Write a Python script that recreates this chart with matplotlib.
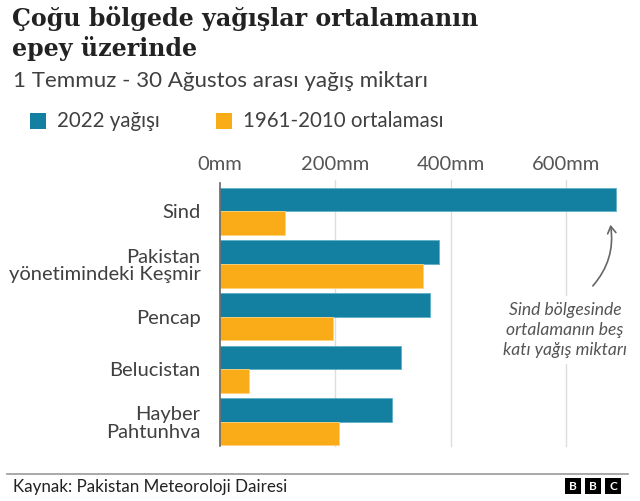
import numpy as np
import matplotlib
matplotlib.use('Agg')
import matplotlib.pyplot as plt
from matplotlib.patches import FancyArrowPatch, Rectangle

plt.rcParams['font.family'] = ['Lato', 'DejaVu Sans']

# veriler
bolgeler = ['Sind', 'Pakistan\nyönetimindeki Keşmir', 'Pencap', 'Belucistan', 'Hayber\nPahtunhva']
yagis_2022 = [687, 379, 364, 313, 298]
ortalama = [113, 351, 195, 51, 207]
seri_adlari = ['2022 yağışı', '1961-2010 ortalaması']
xticks = [0, 200, 400, 600]
xtick_labels = ['0mm', '200mm', '400mm', '600mm']

mavi = '#1380A1'
turuncu = '#FAAB18'
gri = '#555555'

W, H = 640, 501
fig = plt.figure(figsize=(6.4, 5.01), dpi=100, facecolor='w')
renderer = fig.canvas.get_renderer()

def px(x, y):
    return x / W, 1 - y / H

def genislik(t):
    return t.get_window_extent(renderer).width

def sigdir(t, hedef):
    # yazi boyutunu hedef piksel genisligine gore ayarla
    t.set_fontsize(t.get_fontsize() * hedef / genislik(t))
    return t.get_fontsize()

def olc(metin, hedef, **kw):
    t = fig.text(0, 0, metin, fontsize=12, **kw)
    fs = sigdir(t, hedef)
    t.remove()
    return fs

# eksen (piksel kutusu: sol 220, sag 624, ust 183, alt 446)
ax = fig.add_axes([220 / W, (H - 446) / H, (624 - 220) / W, (446 - 183) / H])
y = np.arange(len(bolgeler))
h = 0.45
ax.barh(y - h / 2, yagis_2022, height=h, color=mavi, edgecolor='#5fb0c8', linewidth=0.6, zorder=3)
ax.barh(y + h / 2, ortalama, height=h, color=turuncu, edgecolor='#ffd27a', linewidth=0.6, zorder=3)
ax.set_xlim(0, 700)
ax.set_ylim(4.46, -0.54)
ax.set_xticks(xticks)
ax.set_xticklabels(xtick_labels)
ax.xaxis.tick_top()
fs_tick = olc('200mm', 68)
ax.tick_params(axis='x', length=0, pad=7, labelsize=fs_tick, labelcolor=gri)
ax.set_yticks(y)
fs_kat = olc('yönetimindeki Keşmir', 191)
ax.set_yticklabels(bolgeler, fontsize=fs_kat, color='#404040', linespacing=1.05)
ax.tick_params(axis='y', length=0, pad=14)
for s in ['top', 'right', 'bottom']:
    ax.spines[s].set_visible(False)
ax.spines['left'].set_color('#666666')
ax.spines['left'].set_linewidth(1.2)
ax.spines['left'].set_zorder(4)
for t in xticks[1:]:
    ax.axvline(t, color='#dddddd', linewidth=1, zorder=1, ymin=0, ymax=1.01, clip_on=False)

# not ve ok
fs_not = olc('katı yağış miktarı', 124, style='italic')
fig.text(*px(565, 330), 'Sind bölgesinde\nortalamanın beş\nkatı yağış miktarı',
         ha='center', va='center', fontsize=fs_not, style='italic',
         color=gri, linespacing=1.3, zorder=5,
         bbox=dict(facecolor='white', edgecolor='none', pad=4))
ok = FancyArrowPatch(px(591, 288), px(610, 222), transform=fig.transFigure,
                     connectionstyle='arc3,rad=0.25', arrowstyle='->,head_length=5,head_width=3',
                     color='#666666', linewidth=1.2)
fig.patches.append(ok)

# baslik
t1 = fig.text(*px(12, 26), 'Çoğu bölgede yağışlar ortalamanın', fontsize=18, fontweight='bold',
              color='#222222', va='baseline', family=['DejaVu Serif'])
fs_bas = sigdir(t1, 466)
fig.text(*px(12, 56), 'epey üzerinde', fontsize=fs_bas, fontweight='bold',
         color='#222222', va='baseline', family=['DejaVu Serif'])
t3 = fig.text(*px(13, 87), '1 Temmuz - 30 Ağustos arası yağış miktarı', fontsize=13,
              color='#404040', va='baseline')
sigdir(t3, 414)

# lejant
fs_lej = olc(seri_adlari[1], 200)
for xs, renk, ad in [(30, mavi, seri_adlari[0]), (216, turuncu, seri_adlari[1])]:
    fig.patches.append(Rectangle(px(xs, 129), 16 / W, 16 / H, transform=fig.transFigure,
                                 facecolor=renk, edgecolor='none'))
    fig.text(*px(xs + 27, 121), ad, fontsize=fs_lej, color='#404040', va='center')

# alt bilgi
fig.add_artist(plt.Line2D([7 / W, 628 / W], [1 - 474 / H] * 2, transform=fig.transFigure,
                          color='#999999', linewidth=1.2))
t4 = fig.text(*px(13, 487), 'Kaynak: Pakistan Meteoroloji Dairesi', fontsize=11,
              color='#222222', va='center')
sigdir(t4, 274)
for i, harf in enumerate('BBC'):
    x0 = 565 + i * 20
    fig.patches.append(Rectangle(px(x0, 494), 16 / W, 16 / H, transform=fig.transFigure,
                                 facecolor='black', edgecolor='none'))
    fig.text(*px(x0 + 8, 486.5), harf, fontsize=8.5, fontweight='bold', color='white',
             ha='center', va='center')

fig.savefig('out.png', dpi=100, facecolor='w')
